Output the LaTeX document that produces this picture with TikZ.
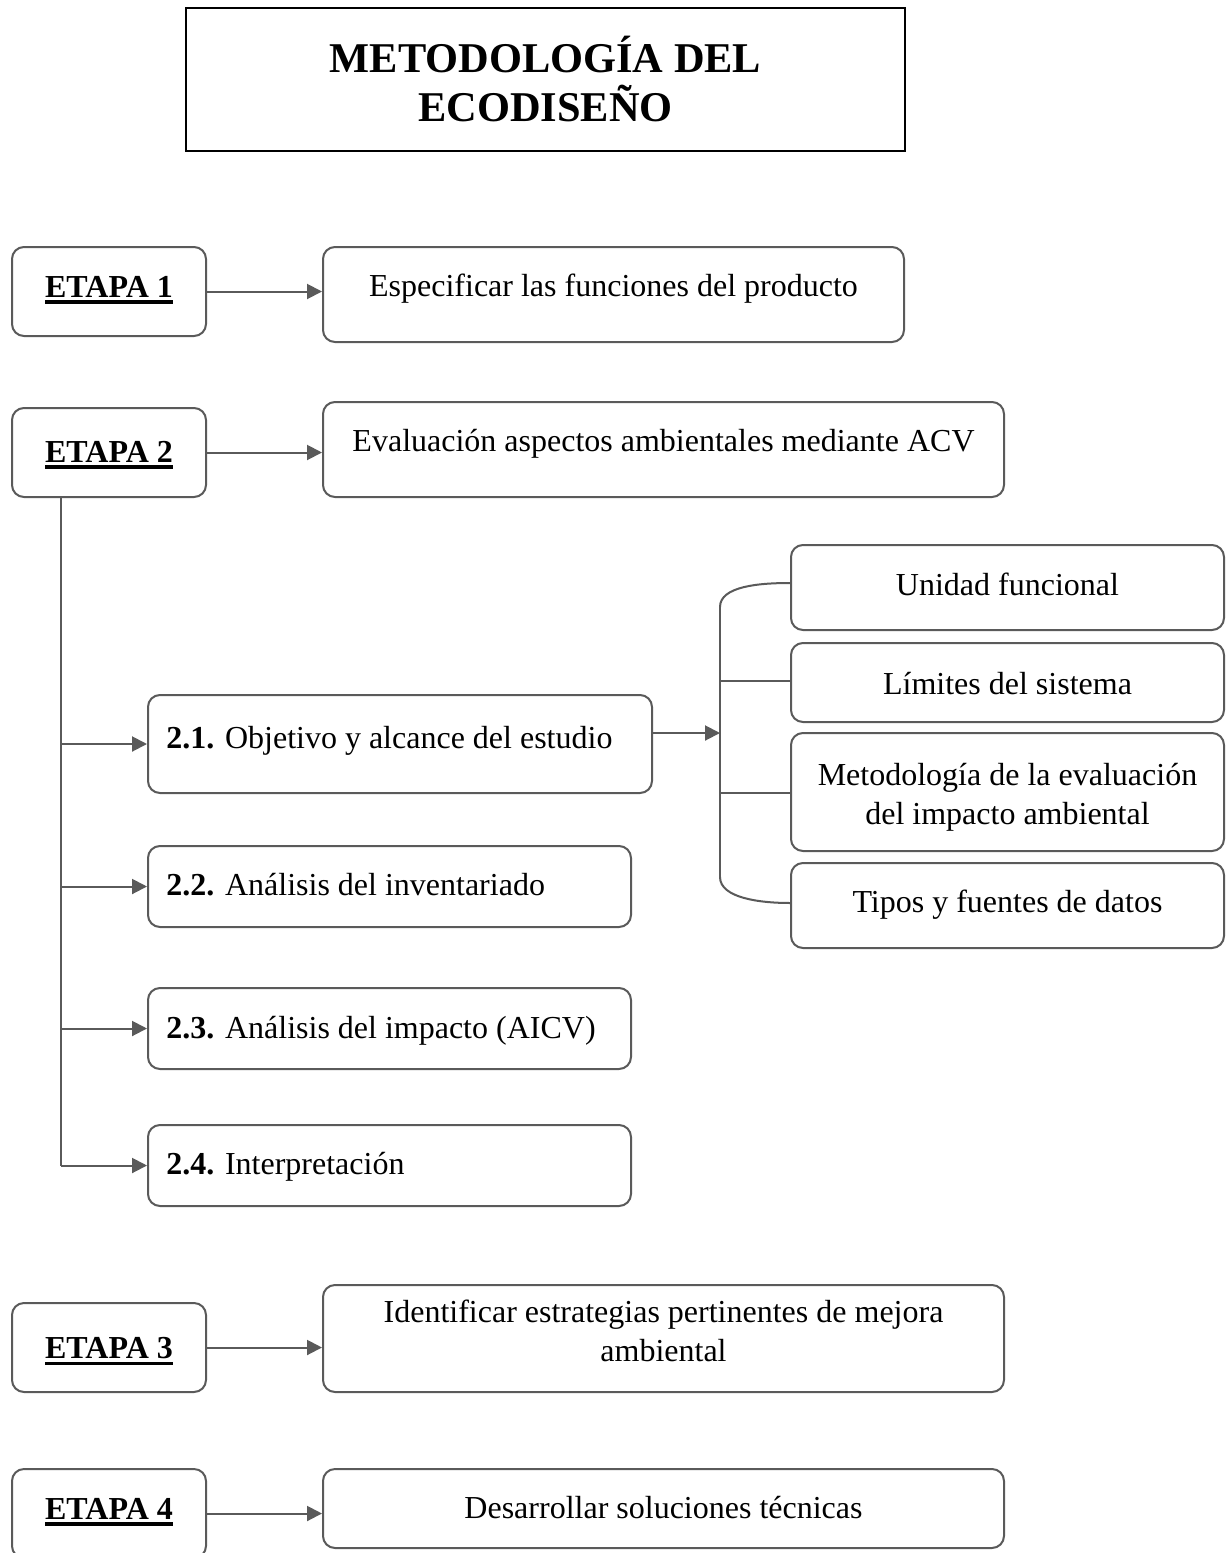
\documentclass[tikz,border=0pt]{standalone}
\usepackage{fontspec}
\setmainfont{Liberation Serif}
\newcommand{\thickul}[1]{\leavevmode\vtop{\hbox{#1}\kern1.6pt\hrule height 1.7pt}}
\usetikzlibrary{arrows.meta,calc}
\definecolor{lc}{HTML}{5A5A5A}
\begin{document}
\begin{tikzpicture}[x=0.5pt,y=-0.5pt,
  box/.style={draw=lc,line width=1pt,rounded corners=6pt,inner sep=0pt,fill=white},
  conn/.style={draw=lc,line width=1pt},
  arr/.style={conn,-{Triangle[length=7.5pt,width=7.5pt]}},
  txt/.style={font=\fontsize{16}{19.5}\selectfont,align=center,inner sep=0pt,anchor=base},
  mtxt/.style={font=\fontsize{16}{19.5}\selectfont,align=center,inner sep=0pt},
  etxt/.style={font=\fontsize{16}{19}\selectfont\bfseries,inner sep=0pt,anchor=base},
  ttxt/.style={font=\fontsize{21.2}{24.5}\selectfont\bfseries,align=center,inner sep=0pt},
  ebox/.style={box,minimum width=97pt,minimum height=44.5pt},
]
\clip (0,0) rectangle (1228,1553);
\fill[white] (0,0) rectangle (1228,1553);

% title
\node[draw=black,line width=1pt,minimum width=359.5pt,minimum height=71.5pt,inner sep=0pt] (title) at (545.5,79.5) {};
\node[ttxt] (titletext) at (545.5,79) {METODOLOGÍA DEL\\ECODISEÑO};

% etapas
\node[ebox] (e1) at (109,291.5) {};
\node[etxt] (e1t) at (109,297) {\thickul{ETAPA 1}};
\node[ebox] (e2) at (109,452.5) {};
\node[etxt] (e2t) at (109,462) {\thickul{ETAPA 2}};
\node[ebox] (e3) at (109,1347.5) {};
\node[etxt] (e3t) at (109,1358) {\thickul{ETAPA 3}};
\node[ebox] (e4) at (109,1513.5) {};
\node[etxt] (e4t) at (109,1519) {\thickul{ETAPA 4}};

% main boxes
\node[box,minimum width=290.5pt,minimum height=47.5pt] (esp) at (613.5,294.5) {};
\node[txt] (espt) at (613.5,296) {Especificar las funciones del producto};
\node[box,minimum width=340.5pt,minimum height=47.5pt] (eva) at (663.5,449.5) {};
\node[txt] (evat) at (663.5,451) {Evaluación aspectos ambientales mediante ACV};
\node[box,minimum width=340.5pt,minimum height=53.5pt] (ide) at (663.5,1338.5) {};
\node[mtxt] (idet) at (663.5,1331) {Identificar estrategias pertinentes de mejora\\ambiental};
\node[box,minimum width=340.5pt,minimum height=39.5pt] (des) at (663.5,1508.5) {};
\node[txt] (dest) at (663.5,1518) {Desarrollar soluciones técnicas};

% sub boxes
\node[box,minimum width=252pt,minimum height=49pt] (s1) at (400,744) {};
\node[txt,anchor=base west] (s1t) at (166,748) {\textbf{2.1.} Objetivo y alcance del estudio};
\node[box,minimum width=241.5pt,minimum height=40.5pt] (s2) at (389.5,886.5) {};
\node[txt,anchor=base west] (s2t) at (166,895) {\textbf{2.2.} Análisis del inventariado};
\node[box,minimum width=241.5pt,minimum height=40.5pt] (s3) at (389.5,1028.5) {};
\node[txt,anchor=base west] (s3t) at (166,1038) {\textbf{2.3.} Análisis del impacto (AICV)};
\node[box,minimum width=241.5pt,minimum height=40.5pt] (s4) at (389.5,1165.5) {};
\node[txt,anchor=base west] (s4t) at (166,1174) {\textbf{2.4.} Interpretación};

% right boxes
\node[box,minimum width=216.5pt,minimum height=42.5pt] (r1) at (1007.5,587.5) {};
\node[txt] (r1t) at (1007.5,595) {Unidad funcional};
\node[box,minimum width=216.5pt,minimum height=39.5pt] (r2) at (1007.5,682.5) {};
\node[txt] (r2t) at (1007.5,694) {Límites del sistema};
\node[box,minimum width=216.5pt,minimum height=59pt] (r3) at (1007.5,792) {};
\node[mtxt] (r3t) at (1007.5,797) {Metodología de la evaluación\\del impacto ambiental};
\node[box,minimum width=216.5pt,minimum height=42.5pt] (r4) at (1007.5,905.5) {};
\node[txt] (r4t) at (1007.5,912) {Tipos y fuentes de datos};

% etapa arrows
\draw[arr] (e1.east) -- (e1.east -| esp.west);
\draw[arr] (e2.east) -- (e2.east -| eva.west);
\draw[arr] (e3.east) -- (e3.east -| ide.west);
\draw[arr] (e4.east) -- (e4.east -| des.west);

% trunk
\coordinate (tr) at ($(e2.south west)+(50,0)$);
\draw[conn] (tr) -- (tr |- s4.west);
\draw[arr] (tr |- s1.west) -- (s1.west);
\draw[arr] (tr |- s2.west) -- (s2.west);
\draw[arr] (tr |- s3.west) -- (s3.west);
\draw[arr] (tr |- s4.west) -- (s4.west);

% bracket
\coordinate (bm) at (720,733);
\coordinate (btop) at (720,607);
\coordinate (bbot) at (720,877);
\draw[arr] (s1.east |- bm) -- (bm);
\draw[conn] (btop) -- (bbot);
\draw[conn] (btop) .. controls (720,586) and (760,583) .. (r1.west |- 0,583);
\draw[conn] (bbot) .. controls (720,898) and (760,903) .. (r4.west |- 0,903);
\draw[conn] (720,681) -- (r2.west |- 0,681);
\draw[conn] (720,793) -- (r3.west |- 0,793);
\end{tikzpicture}
\end{document}
